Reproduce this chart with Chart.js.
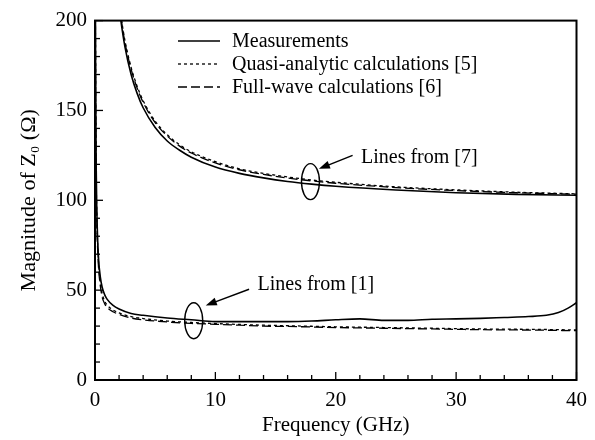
<!DOCTYPE html>
<html lang="en">
<head>
<meta charset="UTF-8">
<title>Magnitude of Z0</title>
<script src="https://cdn.jsdelivr.net/npm/chart.js"></script>
<style>
    html, body { margin: 0; padding: 0; background: #fff; }
    #wrap { width: 595px; height: 440px; position: relative; }
</style>
</head>
<body>
<div id="wrap"><canvas id="grafico"></canvas></div>

<script>
    // "Lines from [7]" - upper group
    var freqUpper  = [1.9, 2.15, 2.5, 3, 3.5, 4, 5, 6, 7, 8, 10, 12, 14, 16, 18, 20, 25, 30, 35, 40];
    var measUpper  = [214, 200, 185, 170, 159.5, 151.5, 140.5, 133, 128, 124, 118.5, 115, 112.5, 110.5, 109, 107.8, 105.7, 104.2, 103.3, 102.8];
    var quasiUpper = [217, 203, 188.5, 174, 163.5, 155.5, 144, 136.5, 131, 127, 121.5, 117.5, 115, 113, 111.3, 110, 107.5, 105.8, 104.5, 103.6];
    var fullUpper  = [216, 202, 187.5, 173, 162.5, 154.5, 143.2, 135.8, 130.3, 126.3, 120.8, 117, 114.4, 112.4, 110.8, 109.5, 107.1, 105.4, 104.2, 103.4];

    // "Lines from [1]" - lower group
    var freqLower  = [0.03, 0.06, 0.1, 0.15, 0.2, 0.3, 0.45, 0.6, 0.8, 1, 1.5, 2, 3, 4, 6, 8, 10, 12, 14, 16, 18, 20, 22, 24, 26, 28, 30, 32, 34, 36, 37.5, 38.5, 39.3, 40];
    var measLower  = [215, 160, 118, 95, 82, 67, 57, 51.5, 47.5, 45, 41.5, 39.5, 37, 36, 34.5, 33.5, 32.5, 32.5, 32.5, 32.5, 32.8, 33.5, 34, 33.2, 33.2, 33.8, 34, 34.3, 34.8, 35.3, 36, 37.5, 40, 43];
    var quasiLower = [210, 155, 114, 91, 79, 64.5, 54, 48, 44, 41.8, 39, 37.3, 35.3, 34.2, 32.8, 32, 31.4, 30.9, 30.5, 30.2, 29.9, 29.6, 29.4, 29.2, 29, 28.8, 28.6, 28.4, 28.3, 28.2, 28.1, 28, 27.9, 27.9];
    var fullLower  = [205, 150, 110, 88, 76, 62, 52, 46, 42.5, 40.5, 38, 36.5, 34.5, 33.5, 32.3, 31.5, 31, 30.5, 30, 29.8, 29.5, 29.2, 29, 28.8, 28.6, 28.4, 28.2, 28, 27.9, 27.8, 27.7, 27.6, 27.5, 27.5];

    var seriesNames = ['Measurements', 'Quasi-analytic calculations [5]', 'Full-wave calculations [6]'];
    var xTicks = [0, 10, 20, 30, 40];
    var yTicks = [0, 50, 100, 150, 200];

    var fonte = "'Liberation Serif', 'Times New Roman', serif";
    var tracos = [[], [3, 3], [9, 4]];

    function pares(xs, ys) {
        return xs.map(function (f, i) { return { x: f, y: ys[i] }; });
    }

    function serie(idx, xs, ys) {
        return {
            label: seriesNames[idx],
            data: pares(xs, ys),
            borderColor: '#000',
            borderWidth: idx == 0 ? 1.6 : 1.3,
            borderDash: tracos[idx],
            pointRadius: 0,
            fill: false,
            cubicInterpolationMode: 'monotone'
        };
    }

    // frame, inward ticks, legend and the two callouts
    const extras = {
        id: 'extras',
        afterDatasetsDraw(chart) {
            const ctx = chart.ctx;
            const a = chart.chartArea;
            const x = chart.scales.x, y = chart.scales.y;
            ctx.save();
            ctx.strokeStyle = '#000';
            ctx.fillStyle = '#000';

            // ticks pointing inward (bottom and left only)
            ctx.lineWidth = 1.3;
            for (let v = 0; v <= 40; v += 2) {
                const px = x.getPixelForValue(v);
                const len = v % 10 == 0 ? 8 : 5;
                ctx.beginPath();
                ctx.moveTo(px, a.bottom);
                ctx.lineTo(px, a.bottom - len);
                ctx.stroke();
            }
            for (let v = 0; v <= 200; v += 10) {
                const py = y.getPixelForValue(v);
                const len = v % 50 == 0 ? 8 : 5;
                ctx.beginPath();
                ctx.moveTo(a.left, py);
                ctx.lineTo(a.left + len, py);
                ctx.stroke();
            }

            // frame
            ctx.lineWidth = 2;
            ctx.strokeRect(a.left, a.top, a.right - a.left, a.bottom - a.top);

            // legend
            ctx.font = '20px ' + fonte;
            ctx.textBaseline = 'middle';
            ctx.textAlign = 'left';
            for (let i = 0; i < 3; i++) {
                const ly = 41 + i * 23;
                const ds = chart.data.datasets[i];
                ctx.lineWidth = ds.borderWidth;
                ctx.setLineDash(ds.borderDash);
                ctx.beginPath();
                ctx.moveTo(178, ly);
                ctx.lineTo(220, ly);
                ctx.stroke();
                ctx.setLineDash([]);
                ctx.fillText(ds.label, 232, ly + 1);
            }

            // callouts
            const callouts = [
                { cx: 17.9, cy: 110.4, tx: 22.1, ty: 123.6, ax: 21.4, ay: 125, bx: 18.6, by: 117.5, txt: 'Lines from [7]' },
                { cx: 8.2, cy: 33, tx: 13.5, ty: 53, ax: 12.8, ay: 50.5, bx: 9.2, by: 41.5, txt: 'Lines from [1]' }
            ];
            callouts.forEach(function (c) {
                ctx.lineWidth = 1.4;
                ctx.beginPath();
                ctx.ellipse(x.getPixelForValue(c.cx), y.getPixelForValue(c.cy), 9, 18, 0, 0, Math.PI * 2);
                ctx.stroke();

                const x1 = x.getPixelForValue(c.ax), y1 = y.getPixelForValue(c.ay);
                const x2 = x.getPixelForValue(c.bx), y2 = y.getPixelForValue(c.by);
                const ang = Math.atan2(y2 - y1, x2 - x1);
                ctx.beginPath();
                ctx.moveTo(x1, y1);
                ctx.lineTo(x2 - 6 * Math.cos(ang), y2 - 6 * Math.sin(ang));
                ctx.stroke();
                ctx.beginPath();
                ctx.moveTo(x2, y2);
                ctx.lineTo(x2 - 11 * Math.cos(ang) + 4 * Math.sin(ang), y2 - 11 * Math.sin(ang) - 4 * Math.cos(ang));
                ctx.lineTo(x2 - 11 * Math.cos(ang) - 4 * Math.sin(ang), y2 - 11 * Math.sin(ang) + 4 * Math.cos(ang));
                ctx.closePath();
                ctx.fill();

                ctx.fillText(c.txt, x.getPixelForValue(c.tx), y.getPixelForValue(c.ty));
            });

            ctx.restore();
        }
    };

    const dados = {
        datasets: [
            serie(0, freqUpper, measUpper),
            serie(1, freqUpper, quasiUpper),
            serie(2, freqUpper, fullUpper),
            serie(0, freqLower, measLower),
            serie(1, freqLower, quasiLower),
            serie(2, freqLower, fullLower)
        ]
    };

    const config = {
        type: 'line',
        data: dados,
        options: {
            responsive: true,
            maintainAspectRatio: false,
            animation: false,
            devicePixelRatio: 1,
            layout: { padding: { top: 16, right: 17, left: 0, bottom: 0 } },
            plugins: { legend: { display: false }, tooltip: { enabled: false } },
            scales: {
                x: {
                    type: 'linear',
                    min: 0, max: 40,
                    afterBuildTicks: function (s) { s.ticks = xTicks.map(function (v) { return { value: v }; }); },
                    afterFit: function (s) { s.height = 60; },
                    grid: { display: false, drawTicks: false, tickLength: 0 },
                    border: { display: false },
                    ticks: { color: '#000', padding: 8, maxRotation: 0, font: { family: fonte, size: 21 } },
                    title: { display: true, text: 'Frequency (GHz)', color: '#000', padding: { top: 0, bottom: 2 }, font: { family: fonte, size: 21 } }
                },
                y: {
                    min: 0, max: 200,
                    afterBuildTicks: function (s) { s.ticks = yTicks.map(function (v) { return { value: v }; }); },
                    afterFit: function (s) { s.width = 95; },
                    grid: { display: false, drawTicks: false, tickLength: 0 },
                    border: { display: false },
                    ticks: { color: '#000', padding: 8, font: { family: fonte, size: 21 } },
                    title: { display: true, text: 'Magnitude of Z\u2080 (\u03A9)', color: '#000', padding: { top: 16, bottom: 0 }, font: { family: fonte, size: 22 } }
                }
            }
        },
        plugins: [extras]
    };

    let myChart = new Chart(document.getElementById('grafico'), config);
</script>
</body>
</html>
